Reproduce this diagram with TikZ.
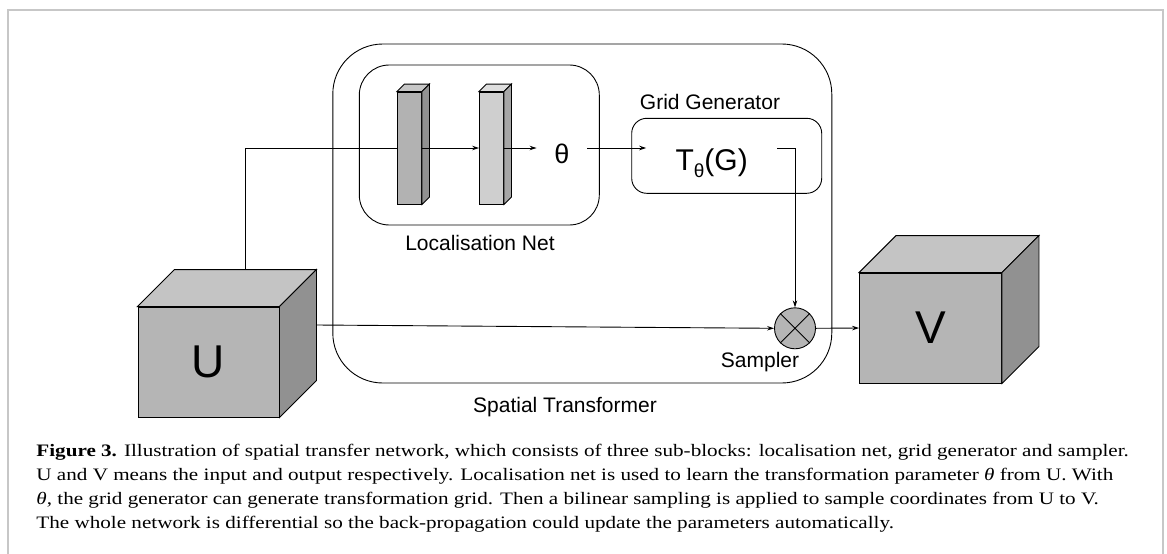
\documentclass[tikz,border=0pt]{standalone}
\usepackage{fontspec}
\setmainfont{Liberation Sans}
\newfontfamily\capfont[FakeStretch=1.207]{Liberation Serif}
\usetikzlibrary{calc,arrows.meta}

% top and side faces of a box whose front face is node #1
\newcommand\boxfaces[4]{%
  \filldraw[fill=#3] (#1.north west) -- ++(#2,-#2) -- ($(#1.north east)+(#2,-#2)$) -- (#1.north east) -- cycle;
  \filldraw[fill=#4] (#1.north east) -- ++(#2,-#2) -- ($(#1.south east)+(#2,-#2)$) -- (#1.south east) -- cycle;
}

\begin{document}
\begin{tikzpicture}[x=1pt,y=-1pt,line width=0.9pt,>={Stealth[length=7pt,width=4.5pt]},
  lbl/.style={font=\fontsize{21}{24}\selectfont},
  frontface/.style={draw,fill=#1,inner sep=0pt},
  group/.style={draw,rounded corners=#1,inner sep=0pt}]
\useasboundingbox (0,0) rectangle (1167,554);
\draw[black!22,line width=2pt] (8,554) -- (8,10) -- (1163,10) -- (1163,554);

% groups
\node[group=50pt,minimum width=499pt,minimum height=339pt] (st) at (582.3,213.5) {};
\node[group=30pt,minimum width=240pt,minimum height=160pt] (loc) at (479.3,145) {};
\node[group=15pt,minimum width=190pt,minimum height=75pt] (gg) at (726.7,155.8) {};
\node[lbl] (stlbl) at (565,407) {Spatial Transformer};
\node[lbl] (loclbl) at (480,243) {Localisation Net};
\node[lbl] (gglbl) at (710,101.7) {Grid Generator};
\node[lbl] (smplbl) at (760,361.7) {Sampler};

% input and output
\node[frontface=black!29,minimum width=141pt,minimum height=110pt,font=\fontsize{46}{50}\selectfont] (U) at (208.5,362) {U};
\boxfaces{U}{37}{black!23}{black!43}
\node[frontface=black!29,minimum width=142pt,minimum height=110pt,font=\fontsize{46}{50}\selectfont] (V) at (930.5,328) {V};
\boxfaces{V}{37}{black!23}{black!43}

% layers
\node[frontface=black!30,minimum width=24pt,minimum height=112pt] (l1) at (409.5,148) {};
\boxfaces{l1}{7.5}{black!22}{black!43}
\node[frontface=black!19,minimum width=24pt,minimum height=112pt] (l2) at (491.5,148) {};
\boxfaces{l2}{7.5}{black!13}{black!35}

\node[anchor=base,font=\fontsize{27}{30}\selectfont,minimum width=50pt,inner sep=0pt] (theta) at (562,163.3) {θ};
\node[anchor=base,font=\fontsize{30}{34}\selectfont,minimum width=130pt,inner sep=0pt] (tg) at (711.7,170) {T\raisebox{-7pt}{\fontsize{19}{19}\selectfont θ}(G)};

\node[circle,draw,fill=black!29,minimum size=41pt,inner sep=0pt] (smp) at (795,328.3) {};
\draw (smp.north west) -- (smp.south east) (smp.north east) -- (smp.south west);

% connectors
\draw ($(U.north)+(37,-37)$) |- (l1.west);
\draw[->] (l1.east) -- (l2.west);
\draw[->] (l2.east) -- (l2.east -| theta.west);
\draw[->] (theta.east |- l2.east) -- (tg.west |- l2.east);
\draw[->] (tg.east |- l2.east) -| (smp.north);
\draw[->] ($(U.east)+(37,-37)$) -- (smp.west);
\draw[->] (smp.east) -- (V.west);

\node[anchor=base west,align=left,inner sep=0pt,font=\capfont\fontsize{17.5}{23.8}\selectfont] (cap) at (36,528)
 {\textbf{Figure 3.} Illustration of spatial transfer network, which consists of three sub-blocks: localisation net, grid generator and sampler.\\
  U and V means the input and output respectively. Localisation net is used to learn the transformation parameter {\itshape θ} from U. With\\
  {\itshape θ}, the grid generator can generate transformation grid. Then a bilinear sampling is applied to sample coordinates from U to V.\\
  The whole network is differential so the back-propagation could update the parameters automatically.};
\end{tikzpicture}
\end{document}
